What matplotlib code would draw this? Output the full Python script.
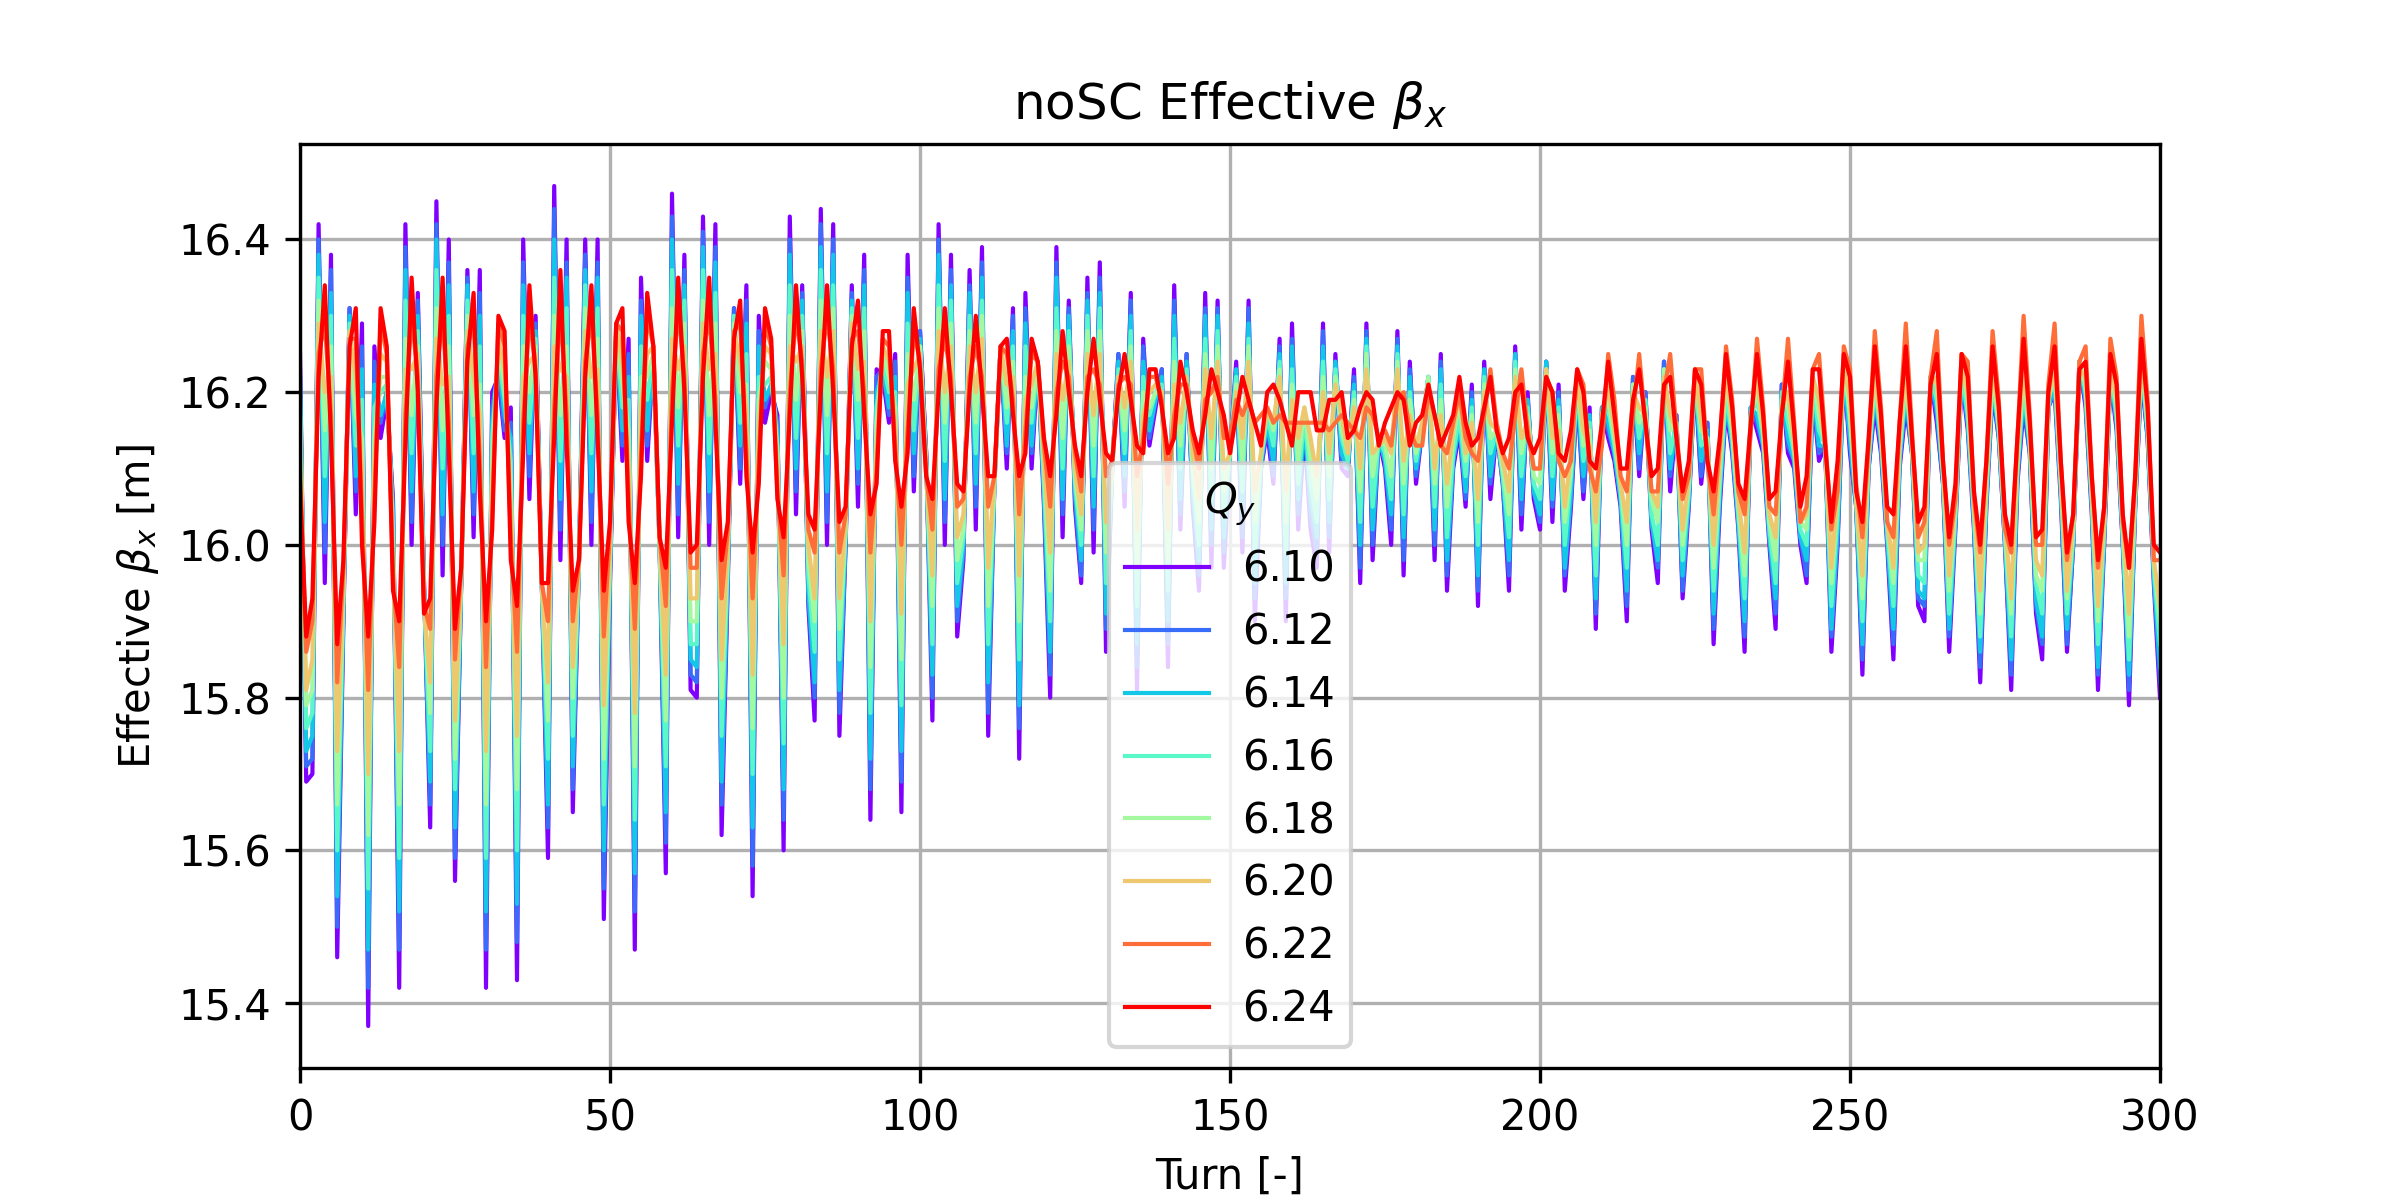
import numpy as np
import matplotlib
matplotlib.use("Agg")
import matplotlib.pyplot as plt

turns = np.arange(301)
qy_values = [6.10, 6.12, 6.14, 6.16, 6.18, 6.20, 6.22, 6.24]

beta_610 = [
16.25, 15.69, 15.70, 16.42, 15.95, 16.38, 15.46, 15.90, 16.31, 16.04,
16.29, 15.37, 16.26, 16.14, 16.19, 16.06, 15.42, 16.42, 16.00, 16.33,
15.95, 15.63, 16.45, 15.96, 16.40, 15.56, 15.95, 16.36, 16.01, 16.36,
15.42, 16.20, 16.22, 16.14, 16.18, 15.43, 16.40, 16.06, 16.30, 15.95,
15.59, 16.47, 15.98, 16.40, 15.65, 15.98, 16.40, 16.00, 16.40, 15.51,
15.95, 16.28, 16.11, 16.27, 15.47, 16.35, 16.11, 16.25, 16.00, 15.57,
16.46, 16.01, 16.38, 15.81, 15.80, 16.43, 16.00, 16.42, 15.62, 15.95,
16.31, 16.08, 16.34, 15.54, 16.30, 16.16, 16.20, 16.17, 15.60, 16.43,
16.04, 16.34, 15.92, 15.77, 16.44, 16.00, 16.42, 15.75, 16.00, 16.34,
16.05, 16.38, 15.64, 16.23, 16.22, 16.16, 16.25, 15.65, 16.38, 16.07,
16.28, 16.12, 15.77, 16.42, 16.00, 16.38, 15.88, 15.98, 16.36, 16.02,
16.39, 15.75, 16.08, 16.26, 16.10, 16.31, 15.72, 16.33, 16.10, 16.24,
16.05, 15.80, 16.39, 16.01, 16.32, 16.05, 15.95, 16.35, 15.99, 16.37,
15.86, 16.10, 16.25, 16.05, 16.33, 15.81, 16.27, 16.13, 16.18, 16.23,
15.84, 16.34, 16.02, 16.25, 16.05, 15.94, 16.33, 15.97, 16.32, 15.97,
16.12, 16.24, 15.99, 16.32, 15.90, 16.10, 16.15, 16.08, 16.27, 15.90,
16.29, 16.02, 16.15, 16.02, 15.97, 16.29, 15.99, 16.25, 16.10, 16.09,
16.23, 15.95, 16.29, 15.98, 16.14, 16.10, 16.00, 16.28, 15.96, 16.24,
16.08, 16.15, 16.22, 15.98, 16.25, 15.94, 16.10, 16.15, 16.05, 16.21,
15.92, 16.24, 16.06, 16.15, 16.08, 15.94, 16.26, 16.02, 16.20, 16.06,
16.02, 16.24, 16.03, 16.21, 15.94, 16.05, 16.20, 16.06, 16.18, 15.89,
16.18, 16.14, 16.11, 16.05, 15.90, 16.22, 16.09, 16.20, 16.02, 15.95,
16.24, 16.07, 16.17, 15.93, 16.05, 16.22, 16.08, 16.16, 15.87, 16.05,
16.18, 16.12, 16.02, 15.86, 16.18, 16.15, 16.12, 16.00, 15.89, 16.21,
16.12, 16.10, 16.00, 15.95, 16.20, 16.11, 16.13, 15.86, 16.00, 16.23,
16.12, 16.05, 15.83, 16.10, 16.18, 16.12, 16.00, 15.85, 16.10, 16.18,
16.12, 15.92, 15.90, 16.22, 16.16, 16.08, 15.86, 16.02, 16.22, 16.15,
16.02, 15.82, 16.05, 16.20, 16.14, 16.00, 15.81, 16.08, 16.18, 16.12,
15.91, 15.85, 16.18, 16.20, 16.06, 15.86, 16.00, 16.24, 16.18, 16.04,
15.81, 16.00, 16.22, 16.15, 16.00, 15.79, 16.05, 16.22, 16.14, 15.95,
15.80]

beta_612 = [
16.23, 15.71, 15.72, 16.40, 15.99, 16.36, 15.50, 15.91, 16.31, 16.07,
16.26, 15.42, 16.24, 16.16, 16.20, 16.05, 15.47, 16.39, 16.03, 16.32,
15.95, 15.66, 16.42, 16.00, 16.37, 15.59, 15.95, 16.35, 16.04, 16.33,
15.47, 16.18, 16.23, 16.15, 16.16, 15.48, 16.37, 16.09, 16.29, 15.95,
15.63, 16.44, 16.02, 16.37, 15.68, 15.98, 16.38, 16.03, 16.37, 15.55,
15.96, 16.28, 16.13, 16.25, 15.52, 16.32, 16.13, 16.25, 16.00, 15.61,
16.43, 16.04, 16.36, 15.83, 15.82, 16.41, 16.03, 16.39, 15.66, 15.96,
16.31, 16.10, 16.32, 15.58, 16.28, 16.18, 16.21, 16.16, 15.64, 16.40,
16.07, 16.33, 15.93, 15.80, 16.42, 16.03, 16.40, 15.78, 16.00, 16.33,
16.08, 16.36, 15.68, 16.22, 16.23, 16.17, 16.24, 15.69, 16.35, 16.09,
16.28, 16.12, 15.80, 16.40, 16.03, 16.36, 15.90, 15.99, 16.34, 16.05,
16.37, 15.78, 16.08, 16.26, 16.12, 16.30, 15.76, 16.31, 16.12, 16.24,
16.06, 15.83, 16.37, 16.04, 16.31, 16.06, 15.96, 16.33, 16.02, 16.35,
15.89, 16.10, 16.25, 16.07, 16.32, 15.84, 16.26, 16.14, 16.19, 16.23,
15.87, 16.32, 16.04, 16.25, 16.06, 15.96, 16.31, 16.00, 16.31, 15.99,
16.12, 16.23, 16.01, 16.31, 15.93, 16.10, 16.16, 16.09, 16.26, 15.93,
16.27, 16.04, 16.16, 16.04, 15.99, 16.28, 16.01, 16.24, 16.11, 16.10,
16.22, 15.97, 16.28, 16.00, 16.14, 16.11, 16.02, 16.27, 15.98, 16.23,
16.09, 16.15, 16.22, 16.00, 16.24, 15.96, 16.11, 16.16, 16.06, 16.20,
15.94, 16.23, 16.08, 16.15, 16.08, 15.96, 16.25, 16.04, 16.19, 16.07,
16.03, 16.24, 16.05, 16.20, 15.96, 16.06, 16.20, 16.07, 16.17, 15.91,
16.18, 16.15, 16.12, 16.06, 15.92, 16.22, 16.10, 16.20, 16.03, 15.97,
16.24, 16.09, 16.17, 15.94, 16.06, 16.22, 16.09, 16.16, 15.89, 16.06,
16.19, 16.13, 16.03, 15.88, 16.18, 16.16, 16.13, 16.01, 15.91, 16.21,
16.13, 16.11, 16.01, 15.96, 16.20, 16.12, 16.13, 15.88, 16.01, 16.23,
16.13, 16.05, 15.85, 16.10, 16.19, 16.13, 16.01, 15.87, 16.11, 16.19,
16.12, 15.93, 15.92, 16.22, 16.17, 16.08, 15.88, 16.03, 16.22, 16.16,
16.03, 15.84, 16.06, 16.21, 16.14, 16.00, 15.83, 16.09, 16.19, 16.12,
15.92, 15.87, 16.18, 16.21, 16.07, 15.87, 16.00, 16.24, 16.19, 16.05,
15.83, 16.01, 16.22, 16.16, 16.00, 15.81, 16.05, 16.23, 16.14, 15.96,
15.82]

beta_614 = [
16.22, 15.73, 15.75, 16.38, 16.03, 16.33, 15.54, 15.92, 16.30, 16.09,
16.23, 15.47, 16.21, 16.17, 16.20, 16.04, 15.52, 16.36, 16.07, 16.30,
15.94, 15.69, 16.40, 16.04, 16.34, 15.63, 15.95, 16.34, 16.07, 16.30,
15.52, 16.16, 16.24, 16.17, 16.14, 15.53, 16.34, 16.12, 16.28, 15.95,
15.66, 16.40, 16.06, 16.35, 15.71, 15.98, 16.36, 16.07, 16.35, 15.60,
15.97, 16.28, 16.15, 16.22, 15.57, 16.30, 16.15, 16.25, 16.00, 15.65,
16.40, 16.08, 16.34, 15.85, 15.84, 16.39, 16.07, 16.37, 15.69, 15.97,
16.30, 16.13, 16.29, 15.63, 16.26, 16.19, 16.21, 16.15, 15.68, 16.38,
16.10, 16.32, 15.94, 15.82, 16.39, 16.07, 16.38, 15.81, 16.01, 16.32,
16.10, 16.34, 15.72, 16.20, 16.23, 16.18, 16.22, 15.73, 16.33, 16.12,
16.27, 16.11, 15.83, 16.38, 16.06, 16.34, 15.92, 16.00, 16.33, 16.08,
16.35, 15.82, 16.08, 16.26, 16.13, 16.28, 15.79, 16.29, 16.13, 16.24,
16.07, 15.86, 16.35, 16.06, 16.30, 16.07, 15.98, 16.32, 16.05, 16.33,
15.91, 16.10, 16.24, 16.09, 16.30, 15.87, 16.24, 16.15, 16.19, 16.22,
15.90, 16.30, 16.06, 16.24, 16.07, 15.98, 16.30, 16.02, 16.30, 16.01,
16.12, 16.23, 16.04, 16.29, 15.95, 16.11, 16.16, 16.11, 16.25, 15.95,
16.26, 16.06, 16.16, 16.06, 16.01, 16.26, 16.03, 16.24, 16.12, 16.10,
16.21, 16.00, 16.27, 16.02, 16.14, 16.11, 16.04, 16.26, 16.01, 16.22,
16.10, 16.15, 16.22, 16.02, 16.23, 15.98, 16.11, 16.16, 16.07, 16.19,
15.96, 16.23, 16.09, 16.15, 16.09, 15.98, 16.25, 16.06, 16.19, 16.07,
16.04, 16.24, 16.06, 16.19, 15.97, 16.07, 16.21, 16.09, 16.17, 15.93,
16.18, 16.16, 16.12, 16.06, 15.94, 16.21, 16.12, 16.19, 16.03, 15.98,
16.23, 16.10, 16.16, 15.96, 16.06, 16.22, 16.11, 16.15, 15.91, 16.07,
16.19, 16.13, 16.03, 15.90, 16.18, 16.17, 16.13, 16.01, 15.93, 16.20,
16.14, 16.11, 16.01, 15.98, 16.21, 16.13, 16.13, 15.89, 16.02, 16.23,
16.14, 16.05, 15.87, 16.11, 16.20, 16.13, 16.01, 15.89, 16.11, 16.20,
16.12, 15.94, 15.93, 16.22, 16.18, 16.09, 15.89, 16.03, 16.23, 16.16,
16.03, 15.86, 16.06, 16.21, 16.15, 16.01, 15.85, 16.09, 16.20, 16.13,
15.93, 15.88, 16.18, 16.21, 16.07, 15.89, 16.01, 16.24, 16.19, 16.05,
15.84, 16.01, 16.23, 16.16, 16.01, 15.83, 16.06, 16.23, 16.15, 15.96,
15.84]

beta_616 = [
16.19, 15.76, 15.78, 16.35, 16.09, 16.30, 15.60, 15.93, 16.29, 16.13,
16.19, 15.55, 16.18, 16.20, 16.21, 16.02, 15.59, 16.32, 16.12, 16.28,
15.94, 15.73, 16.36, 16.10, 16.30, 15.68, 15.96, 16.32, 16.12, 16.26,
15.59, 16.14, 16.25, 16.19, 16.11, 15.60, 16.30, 16.16, 16.27, 15.95,
15.72, 16.35, 16.11, 16.31, 15.75, 15.98, 16.34, 16.12, 16.31, 15.66,
15.98, 16.28, 16.18, 16.19, 15.64, 16.26, 16.19, 16.25, 16.00, 15.71,
16.36, 16.13, 16.32, 15.87, 15.87, 16.36, 16.12, 16.33, 15.75, 15.98,
16.30, 16.16, 16.25, 15.70, 16.22, 16.21, 16.22, 16.13, 15.74, 16.34,
16.14, 16.30, 15.96, 15.86, 16.36, 16.12, 16.34, 15.85, 16.02, 16.31,
16.14, 16.31, 15.78, 16.18, 16.24, 16.20, 16.20, 15.79, 16.29, 16.15,
16.26, 16.11, 15.87, 16.34, 16.11, 16.32, 15.95, 16.01, 16.30, 16.12,
16.32, 15.87, 16.08, 16.26, 16.16, 16.26, 15.85, 16.26, 16.16, 16.24,
16.08, 15.90, 16.31, 16.10, 16.28, 16.08, 16.00, 16.30, 16.09, 16.31,
15.95, 16.10, 16.23, 16.12, 16.28, 15.92, 16.22, 16.17, 16.20, 16.21,
15.94, 16.27, 16.10, 16.23, 16.09, 16.00, 16.27, 16.06, 16.28, 16.04,
16.12, 16.22, 16.07, 16.27, 15.99, 16.11, 16.17, 16.13, 16.24, 15.99,
16.23, 16.08, 16.17, 16.08, 16.03, 16.24, 16.06, 16.23, 16.14, 16.11,
16.20, 16.03, 16.26, 16.05, 16.14, 16.12, 16.06, 16.25, 16.04, 16.20,
16.11, 16.16, 16.22, 16.05, 16.21, 16.01, 16.12, 16.17, 16.09, 16.18,
16.00, 16.22, 16.12, 16.15, 16.09, 16.01, 16.24, 16.09, 16.18, 16.08,
16.06, 16.23, 16.09, 16.18, 16.00, 16.09, 16.21, 16.11, 16.16, 15.96,
16.17, 16.18, 16.13, 16.07, 15.97, 16.21, 16.14, 16.19, 16.04, 16.00,
16.23, 16.12, 16.16, 15.98, 16.07, 16.22, 16.13, 16.14, 15.94, 16.08,
16.20, 16.14, 16.04, 15.93, 16.17, 16.19, 16.14, 16.02, 15.95, 16.20,
16.16, 16.12, 16.02, 16.00, 16.21, 16.15, 16.13, 15.92, 16.04, 16.24,
16.16, 16.06, 15.90, 16.11, 16.21, 16.14, 16.02, 15.92, 16.12, 16.21,
16.13, 15.96, 15.95, 16.22, 16.19, 16.09, 15.91, 16.04, 16.23, 16.17,
16.04, 15.88, 16.07, 16.22, 16.15, 16.01, 15.88, 16.10, 16.21, 16.13,
15.95, 15.91, 16.19, 16.22, 16.08, 15.91, 16.01, 16.24, 16.20, 16.06,
15.87, 16.02, 16.23, 16.17, 16.01, 15.85, 16.06, 16.24, 16.15, 15.97,
15.87]

beta_618 = [
16.17, 15.79, 15.81, 16.32, 16.15, 16.26, 15.66, 15.94, 16.28, 16.17,
16.14, 15.62, 16.14, 16.22, 16.22, 16.00, 15.66, 16.27, 16.17, 16.26,
15.93, 15.78, 16.31, 16.15, 16.26, 15.72, 15.96, 16.30, 16.17, 16.21,
15.66, 16.11, 16.26, 16.21, 16.08, 15.68, 16.26, 16.20, 16.26, 15.95,
15.77, 16.30, 16.17, 16.26, 15.80, 15.98, 16.31, 16.17, 16.27, 15.72,
15.99, 16.28, 16.21, 16.15, 15.71, 16.22, 16.22, 16.25, 16.00, 15.77,
16.31, 16.18, 16.29, 15.90, 15.90, 16.32, 16.17, 16.29, 15.80, 15.99,
16.29, 16.20, 16.21, 15.76, 16.19, 16.24, 16.23, 16.12, 15.80, 16.30,
16.19, 16.28, 15.98, 15.90, 16.32, 16.17, 16.31, 15.89, 16.02, 16.30,
16.19, 16.28, 15.84, 16.16, 16.25, 16.22, 16.18, 15.85, 16.25, 16.19,
16.26, 16.10, 15.92, 16.31, 16.16, 16.29, 15.98, 16.02, 16.28, 16.16,
16.30, 15.92, 16.08, 16.26, 16.18, 16.24, 15.90, 16.22, 16.18, 16.24,
16.10, 15.94, 16.28, 16.14, 16.26, 16.09, 16.02, 16.28, 16.13, 16.28,
15.99, 16.10, 16.22, 16.15, 16.26, 15.97, 16.20, 16.18, 16.20, 16.20,
15.98, 16.24, 16.13, 16.22, 16.10, 16.03, 16.25, 16.10, 16.26, 16.07,
16.12, 16.21, 16.11, 16.26, 16.03, 16.12, 16.18, 16.15, 16.23, 16.03,
16.21, 16.11, 16.18, 16.11, 16.06, 16.22, 16.09, 16.22, 16.15, 16.12,
16.19, 16.07, 16.25, 16.09, 16.14, 16.13, 16.09, 16.24, 16.08, 16.19,
16.12, 16.16, 16.22, 16.08, 16.19, 16.05, 16.14, 16.19, 16.11, 16.17,
16.03, 16.21, 16.14, 16.15, 16.10, 16.04, 16.23, 16.12, 16.17, 16.09,
16.08, 16.23, 16.12, 16.17, 16.03, 16.10, 16.22, 16.13, 16.15, 16.00,
16.17, 16.19, 16.14, 16.08, 16.00, 16.21, 16.16, 16.18, 16.06, 16.03,
16.23, 16.15, 16.16, 16.00, 16.08, 16.23, 16.15, 16.14, 15.97, 16.10,
16.22, 16.15, 16.05, 15.96, 16.17, 16.20, 16.15, 16.03, 15.98, 16.19,
16.18, 16.13, 16.03, 16.02, 16.22, 16.17, 16.13, 15.95, 16.06, 16.24,
16.17, 16.06, 15.93, 16.12, 16.22, 16.15, 16.03, 15.95, 16.13, 16.22,
16.13, 15.98, 15.98, 16.22, 16.21, 16.10, 15.94, 16.05, 16.24, 16.19,
16.05, 15.91, 16.08, 16.23, 16.16, 16.02, 15.91, 16.11, 16.23, 16.14,
15.96, 15.94, 16.19, 16.23, 16.09, 15.93, 16.02, 16.24, 16.21, 16.07,
15.90, 16.03, 16.24, 16.18, 16.02, 15.88, 16.07, 16.25, 16.16, 15.98,
15.90]

beta_620 = [
16.14, 15.81, 15.85, 16.29, 16.20, 16.22, 15.73, 15.95, 16.28, 16.22,
16.10, 15.70, 16.11, 16.25, 16.24, 15.98, 15.73, 16.23, 16.23, 16.25,
15.92, 15.82, 16.27, 16.21, 16.22, 15.77, 15.96, 16.28, 16.22, 16.17,
15.73, 16.08, 16.27, 16.23, 16.05, 15.75, 16.22, 16.24, 16.25, 15.95,
15.82, 16.26, 16.23, 16.22, 15.84, 15.98, 16.28, 16.22, 16.23, 15.79,
16.00, 16.29, 16.24, 16.11, 15.78, 16.18, 16.25, 16.26, 16.01, 15.83,
16.27, 16.23, 16.26, 15.93, 15.93, 16.29, 16.23, 16.25, 15.85, 16.00,
16.28, 16.24, 16.18, 15.83, 16.16, 16.26, 16.25, 16.10, 15.87, 16.26,
16.24, 16.26, 16.00, 15.93, 16.28, 16.22, 16.28, 15.93, 16.03, 16.29,
16.23, 16.24, 15.90, 16.13, 16.26, 16.24, 16.16, 15.91, 16.21, 16.23,
16.25, 16.10, 15.96, 16.28, 16.20, 16.26, 16.01, 16.04, 16.26, 16.20,
16.27, 15.97, 16.09, 16.26, 16.21, 16.22, 15.96, 16.19, 16.21, 16.24,
16.11, 15.99, 16.25, 16.19, 16.24, 16.10, 16.04, 16.25, 16.17, 16.25,
16.03, 16.11, 16.22, 16.18, 16.24, 16.02, 16.17, 16.20, 16.21, 16.20,
16.02, 16.21, 16.16, 16.22, 16.12, 16.06, 16.23, 16.14, 16.24, 16.10,
16.12, 16.20, 16.14, 16.24, 16.07, 16.12, 16.18, 16.16, 16.22, 16.07,
16.19, 16.14, 16.18, 16.14, 16.09, 16.20, 16.12, 16.21, 16.17, 16.12,
16.18, 16.10, 16.23, 16.12, 16.13, 16.14, 16.12, 16.23, 16.11, 16.17,
16.13, 16.16, 16.21, 16.10, 16.17, 16.08, 16.15, 16.20, 16.12, 16.16,
16.06, 16.20, 16.16, 16.15, 16.11, 16.07, 16.22, 16.14, 16.16, 16.10,
16.10, 16.23, 16.14, 16.15, 16.05, 16.12, 16.22, 16.15, 16.13, 16.03,
16.17, 16.21, 16.15, 16.08, 16.03, 16.20, 16.18, 16.17, 16.07, 16.05,
16.22, 16.17, 16.15, 16.02, 16.09, 16.23, 16.16, 16.13, 16.00, 16.11,
16.23, 16.16, 16.06, 15.99, 16.17, 16.22, 16.15, 16.04, 16.01, 16.18,
16.20, 16.13, 16.03, 16.04, 16.22, 16.19, 16.13, 15.97, 16.07, 16.24,
16.19, 16.06, 15.96, 16.13, 16.23, 16.15, 16.03, 15.97, 16.14, 16.23,
16.13, 15.99, 16.00, 16.21, 16.22, 16.10, 15.96, 16.06, 16.24, 16.20,
16.05, 15.94, 16.09, 16.24, 16.17, 16.03, 15.93, 16.12, 16.24, 16.15,
15.98, 15.96, 16.19, 16.24, 16.09, 15.94, 16.03, 16.23, 16.22, 16.07,
15.92, 16.03, 16.24, 16.19, 16.03, 15.91, 16.08, 16.25, 16.17, 15.98,
15.92]

beta_622 = [
16.10, 15.86, 15.90, 16.25, 16.29, 16.17, 15.82, 15.97, 16.27, 16.27,
16.04, 15.81, 16.06, 16.29, 16.25, 15.96, 15.84, 16.17, 16.30, 16.22,
15.92, 15.89, 16.22, 16.30, 16.16, 15.85, 15.97, 16.26, 16.29, 16.11,
15.84, 16.04, 16.29, 16.26, 16.01, 15.86, 16.16, 16.30, 16.23, 15.95,
15.90, 16.18, 16.31, 16.17, 15.90, 15.98, 16.24, 16.30, 16.17, 15.88,
16.02, 16.29, 16.28, 16.06, 15.89, 16.12, 16.30, 16.26, 16.01, 15.92,
16.20, 16.31, 16.22, 15.97, 15.97, 16.25, 16.30, 16.19, 15.93, 16.02,
16.28, 16.29, 16.12, 15.93, 16.11, 16.29, 16.26, 16.07, 15.96, 16.20,
16.30, 16.24, 16.02, 15.99, 16.23, 16.30, 16.23, 15.99, 16.04, 16.27,
16.28, 16.20, 15.99, 16.10, 16.27, 16.26, 16.13, 16.00, 16.15, 16.28,
16.24, 16.09, 16.02, 16.23, 16.27, 16.22, 16.05, 16.06, 16.22, 16.26,
16.22, 16.05, 16.09, 16.26, 16.25, 16.19, 16.04, 16.15, 16.25, 16.24,
16.13, 16.05, 16.20, 16.24, 16.22, 16.12, 16.07, 16.22, 16.23, 16.21,
16.09, 16.11, 16.21, 16.22, 16.21, 16.09, 16.14, 16.22, 16.22, 16.19,
16.08, 16.17, 16.21, 16.21, 16.14, 16.10, 16.19, 16.20, 16.22, 16.14,
16.14, 16.19, 16.17, 16.19, 16.16, 16.17, 16.18, 16.16, 16.17, 16.16,
16.16, 16.16, 16.16, 16.16, 16.16, 16.16, 16.15, 16.16, 16.17, 16.16,
16.15, 16.14, 16.18, 16.17, 16.14, 16.15, 16.13, 16.19, 16.20, 16.15,
16.13, 16.13, 16.20, 16.17, 16.13, 16.12, 16.16, 16.20, 16.14, 16.12,
16.11, 16.17, 16.23, 16.16, 16.12, 16.10, 16.17, 16.23, 16.15, 16.10,
16.10, 16.22, 16.20, 16.11, 16.09, 16.11, 16.23, 16.21, 16.10, 16.07,
16.13, 16.25, 16.19, 16.09, 16.07, 16.17, 16.25, 16.16, 16.07, 16.07,
16.20, 16.25, 16.15, 16.06, 16.09, 16.23, 16.23, 16.11, 16.04, 16.13,
16.26, 16.19, 16.07, 16.04, 16.15, 16.27, 16.18, 16.05, 16.04, 16.17,
16.27, 16.16, 16.03, 16.05, 16.23, 16.25, 16.14, 16.02, 16.07, 16.26,
16.23, 16.08, 16.01, 16.13, 16.28, 16.18, 16.03, 16.01, 16.16, 16.29,
16.15, 16.01, 16.03, 16.22, 16.28, 16.11, 16.00, 16.06, 16.25, 16.24,
16.06, 15.99, 16.11, 16.28, 16.19, 16.02, 15.99, 16.14, 16.30, 16.17,
16.00, 16.00, 16.21, 16.29, 16.11, 15.98, 16.04, 16.24, 16.26, 16.09,
15.97, 16.05, 16.27, 16.22, 16.03, 15.97, 16.09, 16.30, 16.19, 15.98,
15.98]

beta_624 = [
16.08, 15.88, 15.93, 16.22, 16.34, 16.14, 15.87, 15.98, 16.26, 16.31,
16.00, 15.88, 16.03, 16.31, 16.26, 15.94, 15.90, 16.13, 16.35, 16.20,
15.91, 15.93, 16.18, 16.35, 16.12, 15.89, 15.97, 16.24, 16.33, 16.07,
15.90, 16.02, 16.30, 16.28, 15.98, 15.92, 16.12, 16.34, 16.22, 15.95,
15.95, 16.14, 16.36, 16.13, 15.94, 15.98, 16.22, 16.34, 16.14, 15.94,
16.03, 16.29, 16.31, 16.03, 15.95, 16.09, 16.33, 16.26, 16.01, 15.97,
16.16, 16.35, 16.20, 15.99, 16.00, 16.22, 16.35, 16.16, 15.98, 16.03,
16.27, 16.32, 16.09, 15.99, 16.08, 16.31, 16.27, 16.06, 16.01, 16.17,
16.34, 16.22, 16.04, 16.02, 16.20, 16.34, 16.20, 16.03, 16.05, 16.26,
16.32, 16.17, 16.04, 16.08, 16.28, 16.28, 16.11, 16.05, 16.12, 16.31,
16.23, 16.09, 16.06, 16.20, 16.31, 16.20, 16.08, 16.07, 16.20, 16.30,
16.20, 16.09, 16.09, 16.26, 16.27, 16.17, 16.09, 16.12, 16.27, 16.24,
16.14, 16.09, 16.17, 16.28, 16.20, 16.13, 16.09, 16.20, 16.27, 16.19,
16.12, 16.11, 16.20, 16.25, 16.19, 16.13, 16.12, 16.23, 16.23, 16.18,
16.12, 16.14, 16.24, 16.20, 16.15, 16.12, 16.17, 16.23, 16.20, 16.17,
16.12, 16.17, 16.22, 16.19, 16.16, 16.13, 16.20, 16.21, 16.19, 16.16,
16.13, 16.20, 16.20, 16.20, 16.15, 16.15, 16.19, 16.19, 16.20, 16.14,
16.15, 16.18, 16.20, 16.19, 16.13, 16.16, 16.18, 16.20, 16.19, 16.13,
16.16, 16.17, 16.21, 16.17, 16.13, 16.15, 16.17, 16.22, 16.16, 16.13,
16.14, 16.18, 16.22, 16.15, 16.12, 16.14, 16.20, 16.21, 16.14, 16.12,
16.14, 16.22, 16.20, 16.12, 16.11, 16.15, 16.23, 16.20, 16.11, 16.10,
16.16, 16.24, 16.17, 16.10, 16.10, 16.19, 16.23, 16.16, 16.09, 16.10,
16.21, 16.22, 16.14, 16.07, 16.11, 16.23, 16.21, 16.11, 16.07, 16.14,
16.25, 16.18, 16.08, 16.06, 16.16, 16.25, 16.17, 16.06, 16.07, 16.17,
16.24, 16.15, 16.05, 16.09, 16.23, 16.23, 16.13, 16.03, 16.11, 16.25,
16.22, 16.07, 16.03, 16.14, 16.26, 16.17, 16.05, 16.04, 16.16, 16.26,
16.14, 16.03, 16.05, 16.21, 16.25, 16.11, 16.01, 16.08, 16.25, 16.22,
16.07, 16.00, 16.11, 16.26, 16.18, 16.04, 16.00, 16.14, 16.27, 16.16,
16.01, 16.02, 16.20, 16.26, 16.11, 15.99, 16.04, 16.23, 16.24, 16.09,
15.98, 16.05, 16.25, 16.21, 16.04, 15.97, 16.09, 16.27, 16.18, 16.00,
15.99]

series = [beta_610, beta_612, beta_614, beta_616,
          beta_618, beta_620, beta_622, beta_624]

colors = plt.cm.rainbow(np.linspace(0, 1, len(qy_values)))

fig, ax = plt.subplots(figsize=(8, 4), dpi=300)
for q, vals, c in zip(qy_values, series, colors):
    n = min(len(turns), len(vals))
    ax.plot(turns[:n], vals[:n], color=c, linewidth=1.0, label=f"{q:.2f}")

ax.set_xlim(0, 300)
ax.set_title(r"noSC Effective $\beta_x$")
ax.set_xlabel("Turn [-]")
ax.set_ylabel(r"Effective $\beta_x$ [m]")
ax.grid(True)
ax.legend(title=r"$Q_y$", loc="lower center")

fig.savefig("out.png", dpi=300)
